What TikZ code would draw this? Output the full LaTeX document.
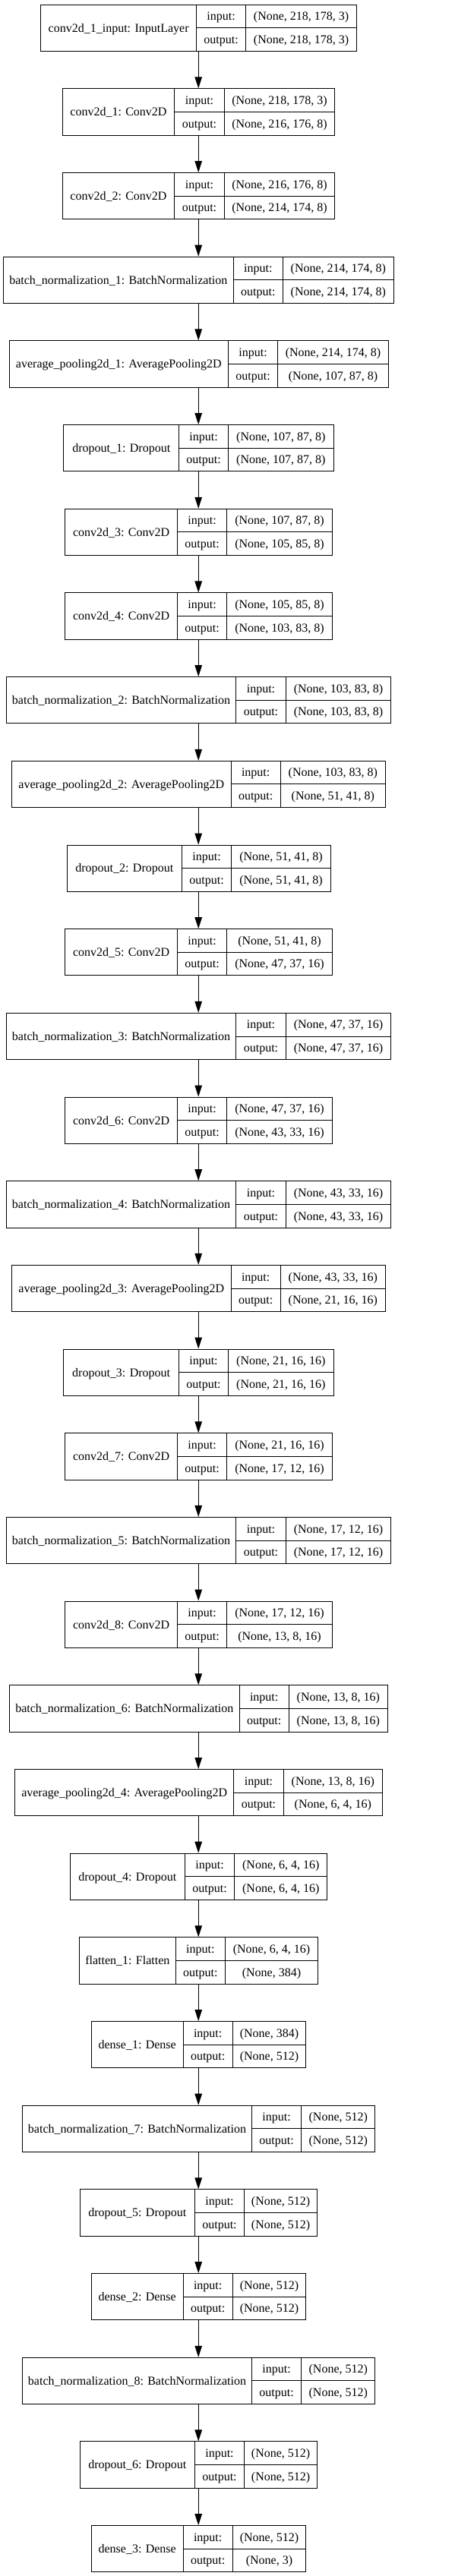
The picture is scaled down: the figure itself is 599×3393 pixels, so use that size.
\documentclass[tikz,border=0pt]{standalone}
\usepackage{fontspec}
\setmainfont{Liberation Serif}
\usetikzlibrary{arrows.meta}
\tikzset{
  fld/.style={draw=black, line width=1pt, inner sep=0pt, anchor=north west,
    minimum height=30.65pt, text height=10.6pt, text depth=0pt,
    font=\fontsize{16pt}{19pt}\selectfont},
  arr/.style={draw=black, line width=1pt, -{Triangle[length=15pt,width=9.5pt]}}
}
\newcommand\lay[8]{%
  \pgfmathsetmacro\tp{5.7+110.68*#1}%
  \pgfmathsetmacro\tq{\tp+30.65}%
  \pgfmathsetmacro\bt{\tp+61.3}%
  \pgfmathsetmacro\wa{#3-#2}%
  \pgfmathsetmacro\wb{#4-#3}%
  \pgfmathsetmacro\wc{#5-#4}%
  \node[fld, minimum width=\wa pt, minimum height=61.3pt] (L#1) at (#2pt,-\tp pt) {#6};
  \node[fld, minimum width=\wb pt] (L#1-ki) at (#3pt,-\tp pt) {input:};
  \node[fld, minimum width=\wb pt] (L#1-ko) at (#3pt,-\tq pt) {output:};
  \node[fld, minimum width=\wc pt] (L#1-vi) at (#4pt,-\tp pt) {#7};
  \node[fld, minimum width=\wc pt] (L#1-vo) at (#4pt,-\tq pt) {#8};
  \coordinate (L#1-t) at (261.2pt,-\tp pt);
  \coordinate (L#1-b) at (261.2pt,-\bt pt);
}
\begin{document}
\begin{tikzpicture}
\useasboundingbox (0pt,0pt) rectangle (599pt,-3393pt);
\fill[white] (0pt,0pt) rectangle (599pt,-3393pt);
\lay{0}{53.3}{258}{323.3}{469}{conv2d\_1\_input: InputLayer}{(None, 218, 178, 3)}{(None, 218, 178, 3)}
\lay{1}{81.7}{229.3}{294.7}{440.3}{conv2d\_1: Conv2D}{(None, 218, 178, 3)}{(None, 216, 176, 8)}
\lay{2}{81.7}{229.3}{294.7}{440.3}{conv2d\_2: Conv2D}{(None, 216, 176, 8)}{(None, 214, 174, 8)}
\lay{3}{4}{306.7}{372}{517.7}{batch\_normalization\_1: BatchNormalization}{(None, 214, 174, 8)}{(None, 214, 174, 8)}
\lay{4}{11.7}{300}{365.3}{510.7}{average\_pooling2d\_1: AveragePooling2D}{(None, 214, 174, 8)}{(None, 107, 87, 8)}
\lay{5}{83.3}{235.3}{300}{438.7}{dropout\_1: Dropout}{(None, 107, 87, 8)}{(None, 107, 87, 8)}
\lay{6}{85.3}{233}{298.3}{436.7}{conv2d\_3: Conv2D}{(None, 107, 87, 8)}{(None, 105, 85, 8)}
\lay{7}{85.3}{233}{298.3}{436.7}{conv2d\_4: Conv2D}{(None, 105, 85, 8)}{(None, 103, 83, 8)}
\lay{8}{7.7}{310.3}{375.7}{514.3}{batch\_normalization\_2: BatchNormalization}{(None, 103, 83, 8)}{(None, 103, 83, 8)}
\lay{9}{15}{303.7}{368.7}{507}{average\_pooling2d\_2: AveragePooling2D}{(None, 103, 83, 8)}{(None, 51, 41, 8)}
\lay{10}{87.7}{239}{304.3}{434.7}{dropout\_2: Dropout}{(None, 51, 41, 8)}{(None, 51, 41, 8)}
\lay{11}{85.3}{233}{298.3}{436.7}{conv2d\_5: Conv2D}{(None, 51, 41, 8)}{(None, 47, 37, 16)}
\lay{12}{7.7}{310.3}{375.7}{514.3}{batch\_normalization\_3: BatchNormalization}{(None, 47, 37, 16)}{(None, 47, 37, 16)}
\lay{13}{85.3}{233}{298.3}{436.7}{conv2d\_6: Conv2D}{(None, 47, 37, 16)}{(None, 43, 33, 16)}
\lay{14}{7.7}{310.3}{375.7}{514.3}{batch\_normalization\_4: BatchNormalization}{(None, 43, 33, 16)}{(None, 43, 33, 16)}
\lay{15}{15}{303.7}{368.7}{507}{average\_pooling2d\_3: AveragePooling2D}{(None, 43, 33, 16)}{(None, 21, 16, 16)}
\lay{16}{83.3}{235}{300}{438.7}{dropout\_3: Dropout}{(None, 21, 16, 16)}{(None, 21, 16, 16)}
\lay{17}{85.3}{233}{298.3}{436.7}{conv2d\_7: Conv2D}{(None, 21, 16, 16)}{(None, 17, 12, 16)}
\lay{18}{7.7}{310.3}{375.7}{514.3}{batch\_normalization\_5: BatchNormalization}{(None, 17, 12, 16)}{(None, 17, 12, 16)}
\lay{19}{85.3}{233}{298.3}{436.7}{conv2d\_8: Conv2D}{(None, 17, 12, 16)}{(None, 13, 8, 16)}
\lay{20}{12}{314.7}{379.7}{510}{batch\_normalization\_6: BatchNormalization}{(None, 13, 8, 16)}{(None, 13, 8, 16)}
\lay{21}{19}{307.3}{372.7}{503}{average\_pooling2d\_4: AveragePooling2D}{(None, 13, 8, 16)}{(None, 6, 4, 16)}
\lay{22}{91.7}{243}{308.3}{430.3}{dropout\_4: Dropout}{(None, 6, 4, 16)}{(None, 6, 4, 16)}
\lay{23}{104}{230.7}{296}{418}{flatten\_1: Flatten}{(None, 6, 4, 16)}{(None, 384)}
\lay{24}{119.7}{240.7}{305.7}{402.3}{dense\_1: Dense}{(None, 384)}{(None, 512)}
\lay{25}{29}{331}{396.3}{493.3}{batch\_normalization\_7: BatchNormalization}{(None, 512)}{(None, 512)}
\lay{26}{104.7}{256}{321}{417.3}{dropout\_5: Dropout}{(None, 512)}{(None, 512)}
\lay{27}{119.7}{240.7}{305.7}{402.3}{dense\_2: Dense}{(None, 512)}{(None, 512)}
\lay{28}{29}{331}{396.3}{493.3}{batch\_normalization\_8: BatchNormalization}{(None, 512)}{(None, 512)}
\lay{29}{104.7}{256}{321}{417.3}{dropout\_6: Dropout}{(None, 512)}{(None, 512)}
\lay{30}{119.7}{240.7}{305.7}{402.3}{dense\_3: Dense}{(None, 512)}{(None, 3)}
\foreach \i [evaluate=\i as \j using int(\i+1)] in {0,...,29} {
  \draw[arr] (L\i-b) -- (L\j-t);
}
\end{tikzpicture}
\end{document}
